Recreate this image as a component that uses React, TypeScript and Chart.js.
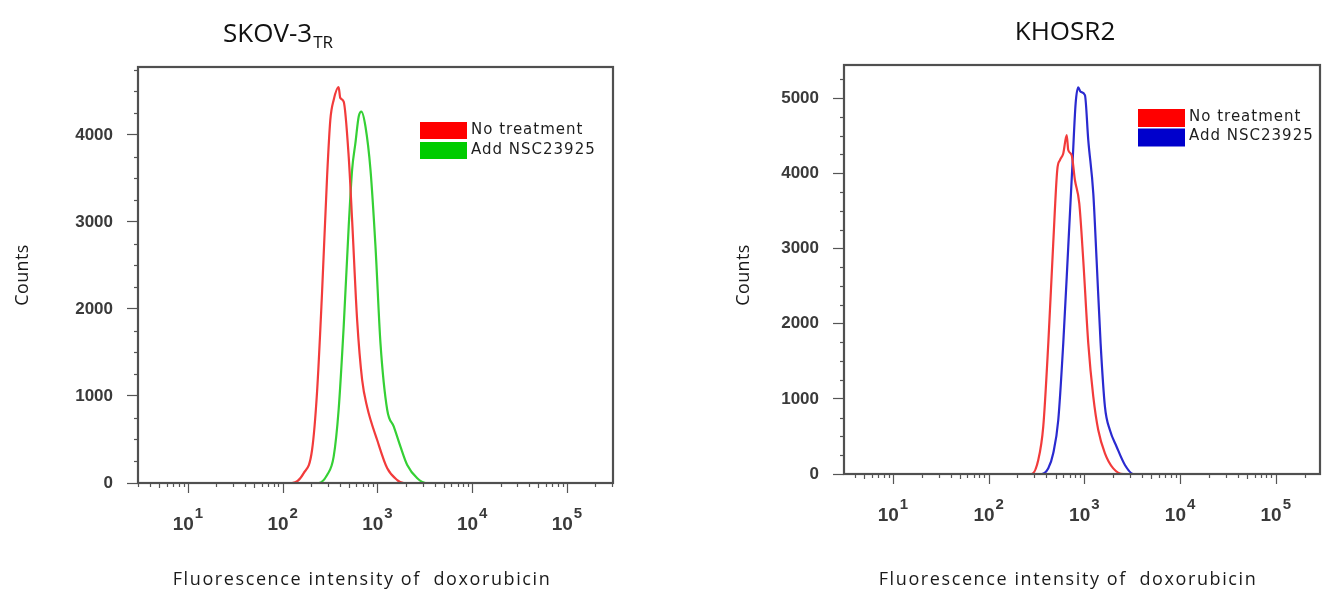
import React, { useEffect, useRef } from "react";
import { Chart, registerables } from "chart.js";

Chart.register(...registerables);

// ---------------- Data: SKOV-3TR ----------------
const skovNoTreatmentFluor = [3, 125, 166, 204, 230, 260, 294, 318, 345, 389, 405, 440, 497, 540, 610, 689, 778, 993, 1268, 1616, 1897, 306000];
const skovNoTreatmentCounts = [0, 0, 111, 379, 1034, 2184, 3521, 4172, 4402, 4548, 4425, 4383, 3751, 3023, 1874, 1184, 874, 494, 169, 34, 0, 0];
const skovAddFluor = [3, 239, 294, 345, 389, 440, 497, 540, 585, 634, 677, 747, 844, 953, 1076, 1268, 1487, 1749, 2061, 2630, 3221, 306000];
const skovAddCounts = [0, 0, 92, 303, 839, 1797, 2946, 3598, 3905, 4211, 4268, 4096, 3598, 2716, 1605, 839, 648, 418, 207, 54, 0, 0];

// ---------------- Data: KHOSR2 ----------------
const khosNoTreatmentFluor = [3, 281, 330, 372, 420, 473, 521, 556, 602, 654, 679, 737, 797, 885, 974, 1099, 1240, 1397, 1641, 2004, 2547, 290000];
const khosNoTreatmentCounts = [0, 0, 186, 629, 1738, 3068, 4043, 4176, 4264, 4508, 4309, 4242, 3910, 3600, 2846, 1738, 1029, 585, 275, 75, 0, 0];
const khosAddFluor = [3, 358, 420, 473, 534, 602, 679, 755, 811, 863, 914, 1014, 1099, 1240, 1343, 1479, 1641, 1849, 2173, 2655, 3243, 290000];
const khosAddCounts = [0, 0, 75, 275, 718, 1738, 3024, 4176, 4930, 5142, 5084, 5040, 4441, 3732, 2846, 1738, 896, 585, 363, 120, 0, 0];

// ---------------- Labels / ticks ----------------
const seriesLabels = ["No treatment", "Add NSC23925"];
const skovYTicks = [0, 1000, 2000, 3000, 4000];
const khosYTicks = [0, 1000, 2000, 3000, 4000, 5000];
const decadeValues = [10, 100, 1000, 10000, 100000];
const decadeExponents = ["1", "2", "3", "4", "5"];
const xAxisTitle = "Fluorescence intensity of  doxorubicin";
const yAxisTitle = "Counts";

const SANS = '"Open Sans", "Noto Sans", sans-serif';
const TICKFONT = '"Liberation Sans", Arial, sans-serif';
const LEGENDFONT = '"DejaVu Sans", sans-serif';

const toPoints = (xs: number[], ys: number[]) => xs.map((v, i) => ({ x: v, y: ys[i] }));

const decorPlugin = {
  id: "decor",
  afterDraw(chart: any, _args: any, o: any) {
    const { ctx, chartArea: a, scales } = chart;
    const xs = scales.x;
    const ys = scales.y;
    ctx.save();

    // minor y ticks
    ctx.strokeStyle = "#555";
    ctx.lineWidth = 1.2;
    for (let v = 250; v < ys.max; v += 250) {
      if (v % 1000 === 0) continue;
      const py = Math.round(ys.getPixelForValue(v)) + 0.5;
      ctx.beginPath();
      ctx.moveTo(a.left - 4, py);
      ctx.lineTo(a.left, py);
      ctx.stroke();
    }

    // x ticks (log)
    for (let e = 0; e <= 5; e++) {
      for (let s = 1; s <= 9; s++) {
        const v = s * Math.pow(10, e);
        if (v < xs.min || v > xs.max) continue;
        const px = Math.round(xs.getPixelForValue(v)) + 0.5;
        const len = s === 1 ? 10 : s === 5 ? 5 : 4;
        ctx.beginPath();
        ctx.moveTo(px, a.bottom);
        ctx.lineTo(px, a.bottom + len);
        ctx.stroke();
      }
    }

    // box
    ctx.strokeStyle = "#505050";
    ctx.lineWidth = 2.2;
    ctx.strokeRect(a.left, a.top, a.right - a.left, a.bottom - a.top);

    // x tick labels with superscripts
    ctx.fillStyle = "#3a3a3a";
    ctx.textBaseline = "alphabetic";
    ctx.textAlign = "left";
    decadeValues.forEach((v, i) => {
      const px = xs.getPixelForValue(v);
      ctx.font = `bold 19px ${TICKFONT}`;
      const wMain = ctx.measureText("10").width;
      ctx.font = `bold 15px ${TICKFONT}`;
      const wSup = ctx.measureText(decadeExponents[i]).width;
      const start = px - (wMain + wSup + 1) / 2;
      const base = a.bottom + 47;
      ctx.font = `bold 19px ${TICKFONT}`;
      ctx.fillText("10", start, base);
      ctx.font = `bold 15px ${TICKFONT}`;
      ctx.fillText(decadeExponents[i], start + wMain + 1, base - 12);
    });

    // x axis title
    ctx.fillStyle = "#1a1a1a";
    ctx.font = `18px ${SANS}`;
    (ctx as any).letterSpacing = "1.6px";
    ctx.textAlign = "center";
    ctx.fillText(xAxisTitle, o.xTitleX, 585);
    (ctx as any).letterSpacing = "0px";

    // y axis title
    ctx.save();
    ctx.translate(o.yTitleX, 275);
    ctx.rotate(-Math.PI / 2);
    ctx.font = `18px ${SANS}`;
    (ctx as any).letterSpacing = "0.4px";
    ctx.textAlign = "center";
    ctx.fillText(yAxisTitle, 0, 0);
    (ctx as any).letterSpacing = "0px";
    ctx.restore();

    // chart title
    ctx.fillStyle = "#111";
    ctx.textAlign = "left";
    ctx.font = `26px ${SANS}`;
    const wT = ctx.measureText(o.title).width;
    let wS = 0;
    if (o.titleSub) {
      ctx.font = `17px ${SANS}`;
      wS = ctx.measureText(o.titleSub).width + 1;
    }
    const tStart = o.titleX - (wT + wS) / 2;
    ctx.font = `26px ${SANS}`;
    ctx.fillText(o.title, tStart, o.titleY);
    if (o.titleSub) {
      ctx.font = `17px ${SANS}`;
      ctx.fillText(o.titleSub, tStart + wT + 1, o.titleY + 6);
    }

    // legend
    chart.data.datasets.forEach((ds: any, i: number) => {
      const top = o.legendY + i * o.legendStep;
      ctx.fillStyle = ds.legendColor;
      ctx.fillRect(o.legendX, top, 47, o.legendBoxH);
      ctx.fillStyle = "#1e1e1e";
      ctx.font = `15px ${LEGENDFONT}`;
      (ctx as any).letterSpacing = "1px";
      ctx.textAlign = "left";
      ctx.fillText(ds.label, o.legendX + 51, top + 11.5);
      (ctx as any).letterSpacing = "0px";
    });

    ctx.restore();
  },
};

type PanelCfg = {
  left: number;
  width: number;
  padding: { left: number; right: number; top: number; bottom: number };
  xMin: number;
  xMax: number;
  yMax: number;
  yTicks: number[];
  series: { label: string; data: { x: number; y: number }[]; color: string; legendColor: string }[];
  decor: any;
};

const yAxisWidth = 90;

function Panel({ cfg }: { cfg: PanelCfg }) {
  const ref = useRef<HTMLCanvasElement>(null);
  useEffect(() => {
    const chart = new Chart(ref.current as HTMLCanvasElement, {
      type: "line",
      data: {
        datasets: cfg.series.map((s) => ({
          label: s.label,
          data: s.data,
          borderColor: s.color,
          legendColor: s.legendColor,
          borderWidth: 2.2,
          pointRadius: 0,
          fill: false,
          cubicInterpolationMode: "monotone",
        })) as any,
      },
      options: {
        animation: false,
        responsive: false,
        maintainAspectRatio: false,
        layout: { padding: cfg.padding },
        plugins: {
          legend: { display: false },
          tooltip: { enabled: false },
          title: { display: false },
          decor: cfg.decor,
        } as any,
        scales: {
          x: {
            type: "logarithmic",
            min: cfg.xMin,
            max: cfg.xMax,
            display: false,
          },
          y: {
            type: "linear",
            min: 0,
            max: cfg.yMax,
            afterBuildTicks: (scale: any) => {
              scale.ticks = cfg.yTicks.map((v) => ({ value: v }));
            },
            afterFit: (scale: any) => {
              scale.width = yAxisWidth;
            },
            border: { display: false },
            grid: {
              drawOnChartArea: false,
              drawTicks: true,
              tickLength: 11,
              tickColor: "#555",
              tickWidth: 1.2,
            },
            ticks: {
              padding: 14,
              color: "#3a3a3a",
              font: { family: TICKFONT, size: 17, weight: "bold" },
              callback: (v: any) => String(v),
            },
          },
        },
      },
      plugins: [decorPlugin],
    });
    return () => chart.destroy();
  }, []);
  return (
    <canvas
      ref={ref}
      width={cfg.width}
      height={591}
      style={{ position: "absolute", left: cfg.left, top: 0, width: cfg.width, height: 591 }}
    />
  );
}

const skovCfg: PanelCfg = {
  left: 0,
  width: 662,
  padding: { left: 138 - yAxisWidth, right: 662 - 613, top: 67, bottom: 591 - 483 },
  xMin: 2.97,
  xMax: 306000,
  yMax: 4780,
  yTicks: skovYTicks,
  series: [
    { label: seriesLabels[0], data: toPoints(skovNoTreatmentFluor, skovNoTreatmentCounts), color: "#f23b3b", legendColor: "#ff0000" },
    { label: seriesLabels[1], data: toPoints(skovAddFluor, skovAddCounts), color: "#35d035", legendColor: "#00cc00" },
  ],
  decor: {
    title: "SKOV-3",
    titleSub: "TR",
    titleX: 278,
    titleY: 42,
    xTitleX: 362,
    yTitleX: 28,
    legendX: 420,
    legendY: 122,
    legendStep: 20,
    legendBoxH: 17,
  },
};

const khosCfg: PanelCfg = {
  left: 662,
  width: 662,
  padding: { left: 844 - 662 - yAxisWidth, right: 662 - (1320 - 662), top: 65, bottom: 591 - 474 },
  xMin: 3.08,
  xMax: 290000,
  yMax: 5440,
  yTicks: khosYTicks,
  series: [
    { label: seriesLabels[0], data: toPoints(khosNoTreatmentFluor, khosNoTreatmentCounts), color: "#f23b3b", legendColor: "#ff0000" },
    { label: seriesLabels[1], data: toPoints(khosAddFluor, khosAddCounts), color: "#2a2ad0", legendColor: "#0000cc" },
  ],
  decor: {
    title: "KHOSR2",
    titleSub: "",
    titleX: 1065 - 662,
    titleY: 40,
    xTitleX: 1068 - 662,
    yTitleX: 749 - 662,
    legendX: 1138 - 662,
    legendY: 109,
    legendStep: 19.5,
    legendBoxH: 18,
  },
};

export default function App() {
  return (
    <div style={{ position: "absolute", left: 0, top: 0, width: 1324, height: 591, background: "#fff" }}>
      <Panel cfg={skovCfg} />
      <Panel cfg={khosCfg} />
    </div>
  );
}
